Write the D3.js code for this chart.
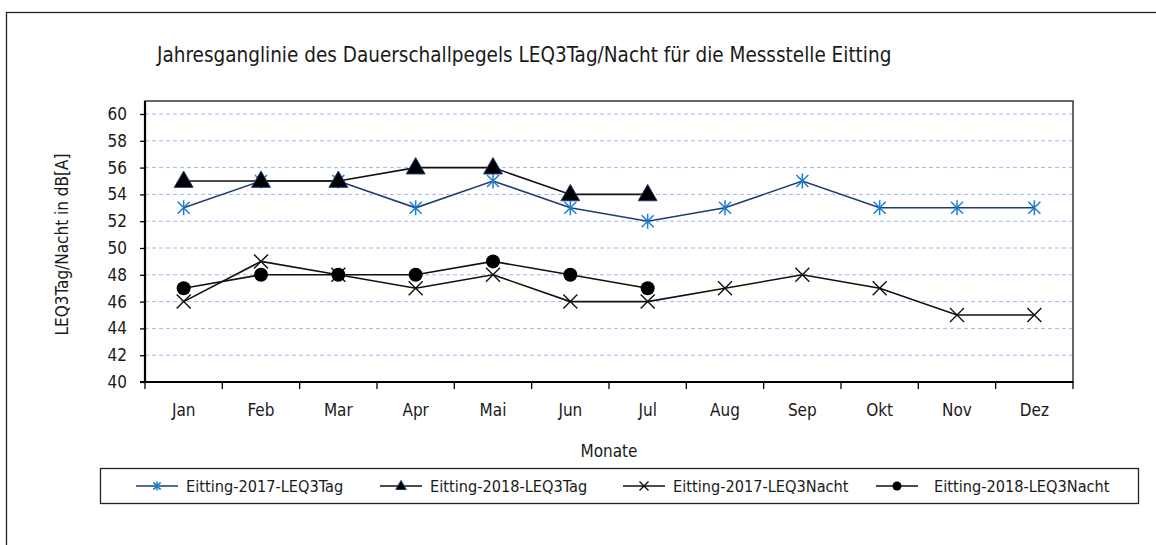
<!DOCTYPE html>
<html>
<head>
<meta charset="utf-8">
<script src="https://cdn.jsdelivr.net/npm/d3@7"></script>
<style>
  body { margin: 0; background: #fff; }
  svg text { font-family: 'DejaVu Sans Condensed', 'Liberation Sans Narrow', sans-serif; font-stretch: condensed; fill: #1a1a1a; }
</style>
</head>
<body>
<svg id="chart" width="1156" height="545"></svg>
<script>
/*******************************************************************************************/
// Data

var months = ['Jan','Feb','Mar','Apr','Mai','Jun','Jul','Aug','Sep','Okt','Nov','Dez'];
var tag2017 = [53, 55, 55, 53, 55, 53, 52, 53, 55, 53, 53, 53];
var tag2018 = [55, 55, 55, 56, 56, 54, 54];
var nacht2017 = [46, 49, 48, 47, 48, 46, 46, 47, 48, 47, 45, 45];
var nacht2018 = [47, 48, 48, 48, 49, 48, 47];
var yTicks = [40, 42, 44, 46, 48, 50, 52, 54, 56, 58, 60];

var series = [
  { name: 'Eitting-2017-LEQ3Tag',   values: tag2017,   line: '#1f3d73', marker: 'star',     color: '#1b7fd1' },
  { name: 'Eitting-2018-LEQ3Tag',   values: tag2018,   line: '#111',    marker: 'triangle', color: '#111' },
  { name: 'Eitting-2017-LEQ3Nacht', values: nacht2017, line: '#111',    marker: 'cross',    color: '#111' },
  { name: 'Eitting-2018-LEQ3Nacht', values: nacht2018, line: '#111',    marker: 'circle',   color: '#111' }
];

/*******************************************************************************************/
// Layout

var svg = d3.select('#chart');
var pLeft = 145, pRight = 1073, pTop = 101, pBottom = 382;

var xScale = d3.scaleBand().domain(months).range([pLeft, pRight]);
var yScale = d3.scaleLinear().domain([40, 60]).range([pBottom, 114]);

// outer frame
svg.append('rect').attr('x', 6.5).attr('y', 12.5).attr('width', 1160).attr('height', 560)
   .style('fill', 'none').style('stroke', '#222').style('stroke-width', 1.3);

svg.append('text').attr('x', 157).attr('y', 62).style('font-size', '20.5px')
   .text('Jahresganglinie des Dauerschallpegels LEQ3Tag/Nacht für die Messstelle Eitting');

// gridlines
svg.append('g').selectAll('line').data(yTicks.slice(1)).join('line')
   .attr('x1', pLeft).attr('x2', pRight)
   .attr('y1', d => yScale(d)).attr('y2', d => yScale(d))
   .style('stroke', '#9db8ea').style('stroke-width', 1).style('stroke-dasharray', '4,3');

// plot frame
svg.append('rect').attr('x', pLeft).attr('y', pTop).attr('width', pRight - pLeft).attr('height', pBottom - pTop)
   .style('fill', 'none').style('stroke', '#333').style('stroke-width', 1.5);

// y axis
var yAxis = svg.append('g').attr('transform', 'translate(' + pLeft + ',0)')
   .call(d3.axisLeft(yScale).tickValues(yTicks).tickSize(5).tickPadding(13));
yAxis.select('.domain').attr('d', 'M0,' + pTop + 'V' + pBottom).style('stroke', '#000').style('stroke-width', 2.2);
yAxis.selectAll('.tick line').style('stroke', '#000').style('stroke-width', 1.3);
yAxis.selectAll('text').style('font-size', '17px').style('font-family', null);

// x axis
var xAxis = svg.append('g').attr('transform', 'translate(0,' + pBottom + ')')
   .call(d3.axisBottom(xScale).tickSize(0).tickPadding(22));
xAxis.select('.domain').remove();
xAxis.selectAll('text').style('font-size', '17px').style('font-family', null);
svg.append('line').attr('x1', pLeft - 5).attr('x2', pRight).attr('y1', pBottom).attr('y2', pBottom)
   .style('stroke', '#000').style('stroke-width', 2.2);
svg.append('g').selectAll('line').data(d3.range(months.length + 1)).join('line')
   .attr('x1', d => pLeft + d * xScale.bandwidth()).attr('x2', d => pLeft + d * xScale.bandwidth())
   .attr('y1', pBottom).attr('y2', pBottom + 7)
   .style('stroke', '#000').style('stroke-width', 1.3);

// axis titles
svg.append('text').attr('x', (pLeft + pRight) / 2).attr('y', 457).attr('text-anchor', 'middle')
   .style('font-size', '17px').text('Monate');
svg.append('text').attr('transform', 'translate(68,' + ((pTop + pBottom) / 2 + 3) + ') rotate(-90)')
   .attr('text-anchor', 'middle').style('font-size', '17px').text('LEQ3Tag/Nacht in dB[A]');

/*******************************************************************************************/
// Markers

function drawMarker(g, type, color, s) {
  if (type === 'star') {
    g.append('path').attr('d', 'M0,' + (-s) + 'V' + s + 'M' + (-s * 0.8) + ',' + (-s * 0.8) + 'L' + (s * 0.8) + ',' + (s * 0.8) +
       'M' + (s * 0.8) + ',' + (-s * 0.8) + 'L' + (-s * 0.8) + ',' + (s * 0.8))
     .style('stroke', color).style('stroke-width', 1.5).style('fill', 'none');
  } else if (type === 'triangle') {
    g.append('path').attr('d', d3.symbol(d3.symbolTriangle, s * s * 1.9)).attr('transform', 'translate(0,' + (s * 0.1) + ')')
     .style('fill', '#000').style('stroke', '#1f3d73').style('stroke-width', 1);
  } else if (type === 'cross') {
    g.append('path').attr('d', 'M' + (-s) + ',' + (-s) + 'L' + s + ',' + s + 'M' + s + ',' + (-s) + 'L' + (-s) + ',' + s)
     .style('stroke', color).style('stroke-width', 1.4).style('fill', 'none');
  } else {
    g.append('circle').attr('r', s).style('fill', '#000');
  }
}

var lineGen = d3.line().x((d, i) => xScale(months[i]) + xScale.bandwidth() / 2).y(d => yScale(d));
var sizes = { star: 7.5, triangle: 9, cross: 7, circle: 7 };
var order = [2, 3, 0, 1];

order.forEach(function (k) {
  var s = series[k];
  svg.append('path').attr('d', lineGen(s.values))
     .style('fill', 'none').style('stroke', s.line).style('stroke-width', 1.6);
});
order.forEach(function (k) {
  var s = series[k];
  s.values.forEach(function (v, i) {
    var g = svg.append('g').attr('transform', 'translate(' + (xScale(months[i]) + xScale.bandwidth() / 2) + ',' + yScale(v) + ')');
    drawMarker(g, s.marker, s.color, sizes[s.marker]);
  });
});

/*******************************************************************************************/
// Legend

svg.append('rect').attr('x', 100.5).attr('y', 468.5).attr('width', 1038).attr('height', 35)
   .style('fill', '#fff').style('stroke', '#222').style('stroke-width', 1.3);
var legendX = [136, 380, 623, 876];
series.forEach(function (s, k) {
  var g = svg.append('g').attr('transform', 'translate(' + legendX[k] + ',486)');
  g.append('line').attr('x1', 0).attr('x2', 42).style('stroke', s.line).style('stroke-width', 1.6);
  drawMarker(g.append('g').attr('transform', 'translate(21,0)'), s.marker, s.color, s.marker === 'triangle' ? 5 : 4.5);
  g.append('text').attr('x', k === 3 ? 58 : 50).attr('y', 6).style('font-size', '16.2px').text(s.name);
});
</script>
</body>
</html>
